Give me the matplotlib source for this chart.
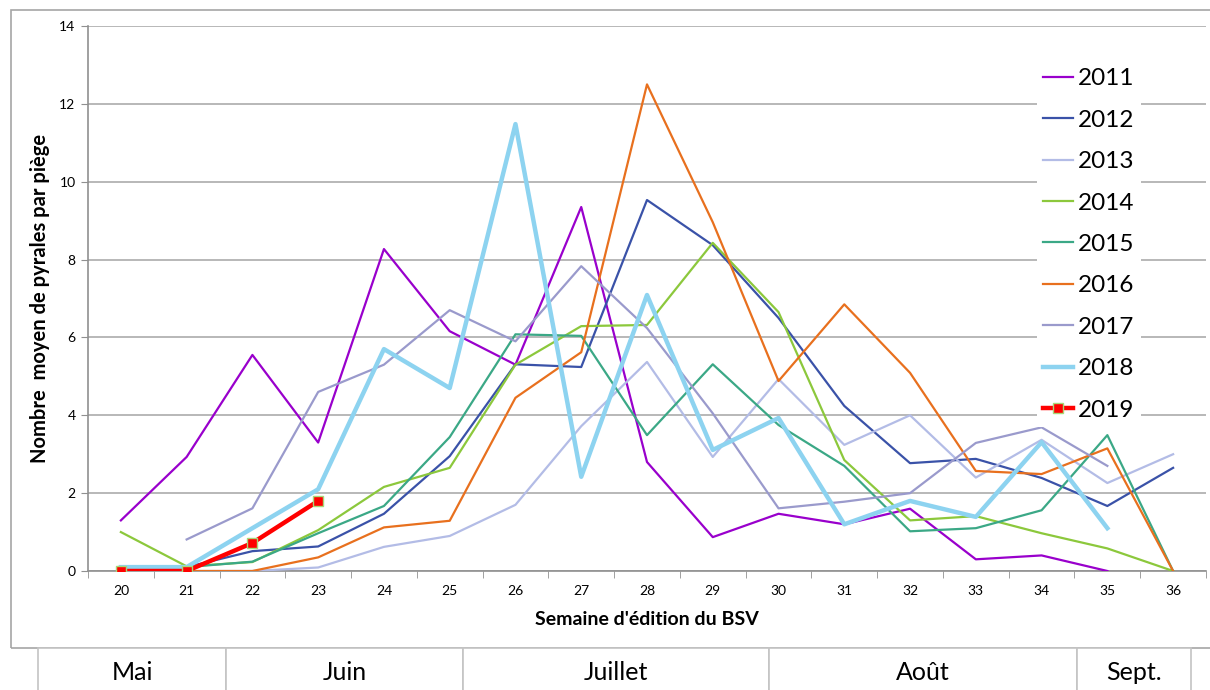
import numpy as np
import matplotlib.pyplot as plt
from matplotlib.patches import Rectangle

nan = np.nan

# Semaines BSV
semaines = list(range(20, 37))

# Nombre moyen de pyrales par piège, une liste par année (nan = pas de relevé)
y2011 = [1.3, 2.93, 5.55, 3.3, 8.27, 6.16, 5.3, 9.35, 2.8, 0.87, 1.47, 1.2, 1.6, 0.3, 0.4, 0.0, nan]
y2012 = [nan, 0.1, 0.51, 0.63, 1.47, 2.95, 5.31, 5.24, 9.53, 8.37, 6.5, 4.24, 2.77, 2.88, 2.39, 1.67, 2.65]
y2013 = [nan, 0.0, 0.0, 0.09, 0.62, 0.9, 1.7, 3.72, 5.37, 2.93, 4.93, 3.24, 4.0, 2.4, 3.37, 2.26, 3.0]
y2014 = [1.0, 0.12, 0.23, 1.05, 2.16, 2.65, 5.3, 6.29, 6.32, 8.43, 6.65, 2.85, 1.3, 1.41, 0.97, 0.58, 0.0]
y2015 = [nan, 0.1, 0.24, 0.97, 1.67, 3.44, 6.08, 6.04, 3.49, 5.31, 3.75, 2.7, 1.02, 1.1, 1.56, 3.49, 0.0]
y2016 = [nan, 0.0, 0.0, 0.35, 1.12, 1.29, 4.45, 5.62, 12.5, 8.96, 4.88, 6.85, 5.09, 2.57, 2.49, 3.15, 0.0]
y2017 = [nan, 0.81, 1.61, 4.6, 5.3, 6.7, 5.9, 7.83, 6.24, 4.05, 1.61, 1.78, 2.0, 3.29, 3.69, 2.7, nan]
y2018 = [0.1, 0.1, 1.1, 2.1, 5.7, 4.7, 11.48, 2.42, 7.09, 3.11, 3.93, 1.2, 1.8, 1.39, 3.31, 1.1, nan]
y2019 = [0.0, 0.0, 0.72, 1.8, nan, nan, nan, nan, nan, nan, nan, nan, nan, nan, nan, nan, nan]

annees = ['2011', '2012', '2013', '2014', '2015', '2016', '2017', '2018', '2019']
series = [y2011, y2012, y2013, y2014, y2015, y2016, y2017, y2018, y2019]
couleurs = ['#9900CC', '#3A52A8', '#B3BCE6', '#8CC83C', '#3BA886',
            '#E8701E', '#9A9ACC', '#8DD3F0', '#FF0000']

mois = ['Mai', 'Juin', 'Juillet', 'Août', 'Sept.']

plt.rcParams['font.family'] = ['Lato', 'DejaVu Sans']

fig = plt.figure(figsize=(12.1, 6.9), dpi=100)
ax = fig.add_axes([88 / 1210, 1 - 571 / 690, (1206 - 88) / 1210, (571 - 26) / 690])

for an, vals, c in zip(annees, series, couleurs):
    if an == '2019':
        ax.plot(semaines, vals, color=c, lw=3.2, marker='s', ms=7,
                mfc='#FF0000', mec='#A8D878', mew=1, label=an, zorder=5)
    elif an == '2018':
        ax.plot(semaines, vals, color=c, lw=3.2, label=an, zorder=4)
    else:
        ax.plot(semaines, vals, color=c, lw=1.6, label=an, zorder=3)

ax.set_xlim(19.5, 36.5)
ax.set_ylim(0, 14)
ax.set_yticks(range(0, 15, 2))
ax.set_xticks(semaines)
ax.set_xticks(np.arange(19.5, 37, 1), minor=True)
ax.tick_params(axis='x', which='major', length=0, labelsize=10, pad=10)
ax.tick_params(axis='x', which='minor', length=5, color='#909090', direction='out')
ax.tick_params(axis='y', length=5, color='#909090', labelsize=10, pad=4)
ax.yaxis.grid(True, color='#ABABAB', lw=1.2)
ax.set_axisbelow(True)
for s in ['top', 'right']:
    ax.spines[s].set_visible(False)
for s in ['left', 'bottom']:
    ax.spines[s].set_color('#909090')
    ax.spines[s].set_linewidth(1.2)

ax.set_xlabel("Semaine d'édition du BSV", fontsize=14, fontweight='bold', labelpad=10)
ax.set_ylabel("Nombre  moyen de pyrales par piège", fontsize=14.5, fontweight='bold', labelpad=7)

leg = ax.legend(loc='upper left', bbox_to_anchor=(0.838, 0.956), fontsize=17.5,
                frameon=True, fancybox=False, handlelength=1.25, handletextpad=0.2,
                labelspacing=0.84, borderpad=0.25)
leg.get_frame().set_edgecolor('none')
leg.get_frame().set_facecolor('white')
leg.get_frame().set_alpha(1)

# cadre du graphique
fig.patches.append(Rectangle((11 / 1210, 1 - 648 / 690), 1.0, (648 - 10) / 690,
                             transform=fig.transFigure, fill=False,
                             edgecolor='#A6A6A6', lw=1.2, zorder=0))

# tableau des mois
bords = [38, 226, 463, 769, 1077, 1191]
for i, m in enumerate(mois):
    x0, x1 = bords[i] / 1210, bords[i + 1] / 1210
    fig.patches.append(Rectangle((x0, -0.01), x1 - x0, 1 - 648 / 690 + 0.01,
                                 transform=fig.transFigure, facecolor='white',
                                 edgecolor='#C4C4C4', lw=1.2, zorder=1))
    fig.text((x0 + x1) / 2, 1 - 673 / 690, m, ha='center', va='center', fontsize=18)

fig.savefig('out.png', dpi=100)
